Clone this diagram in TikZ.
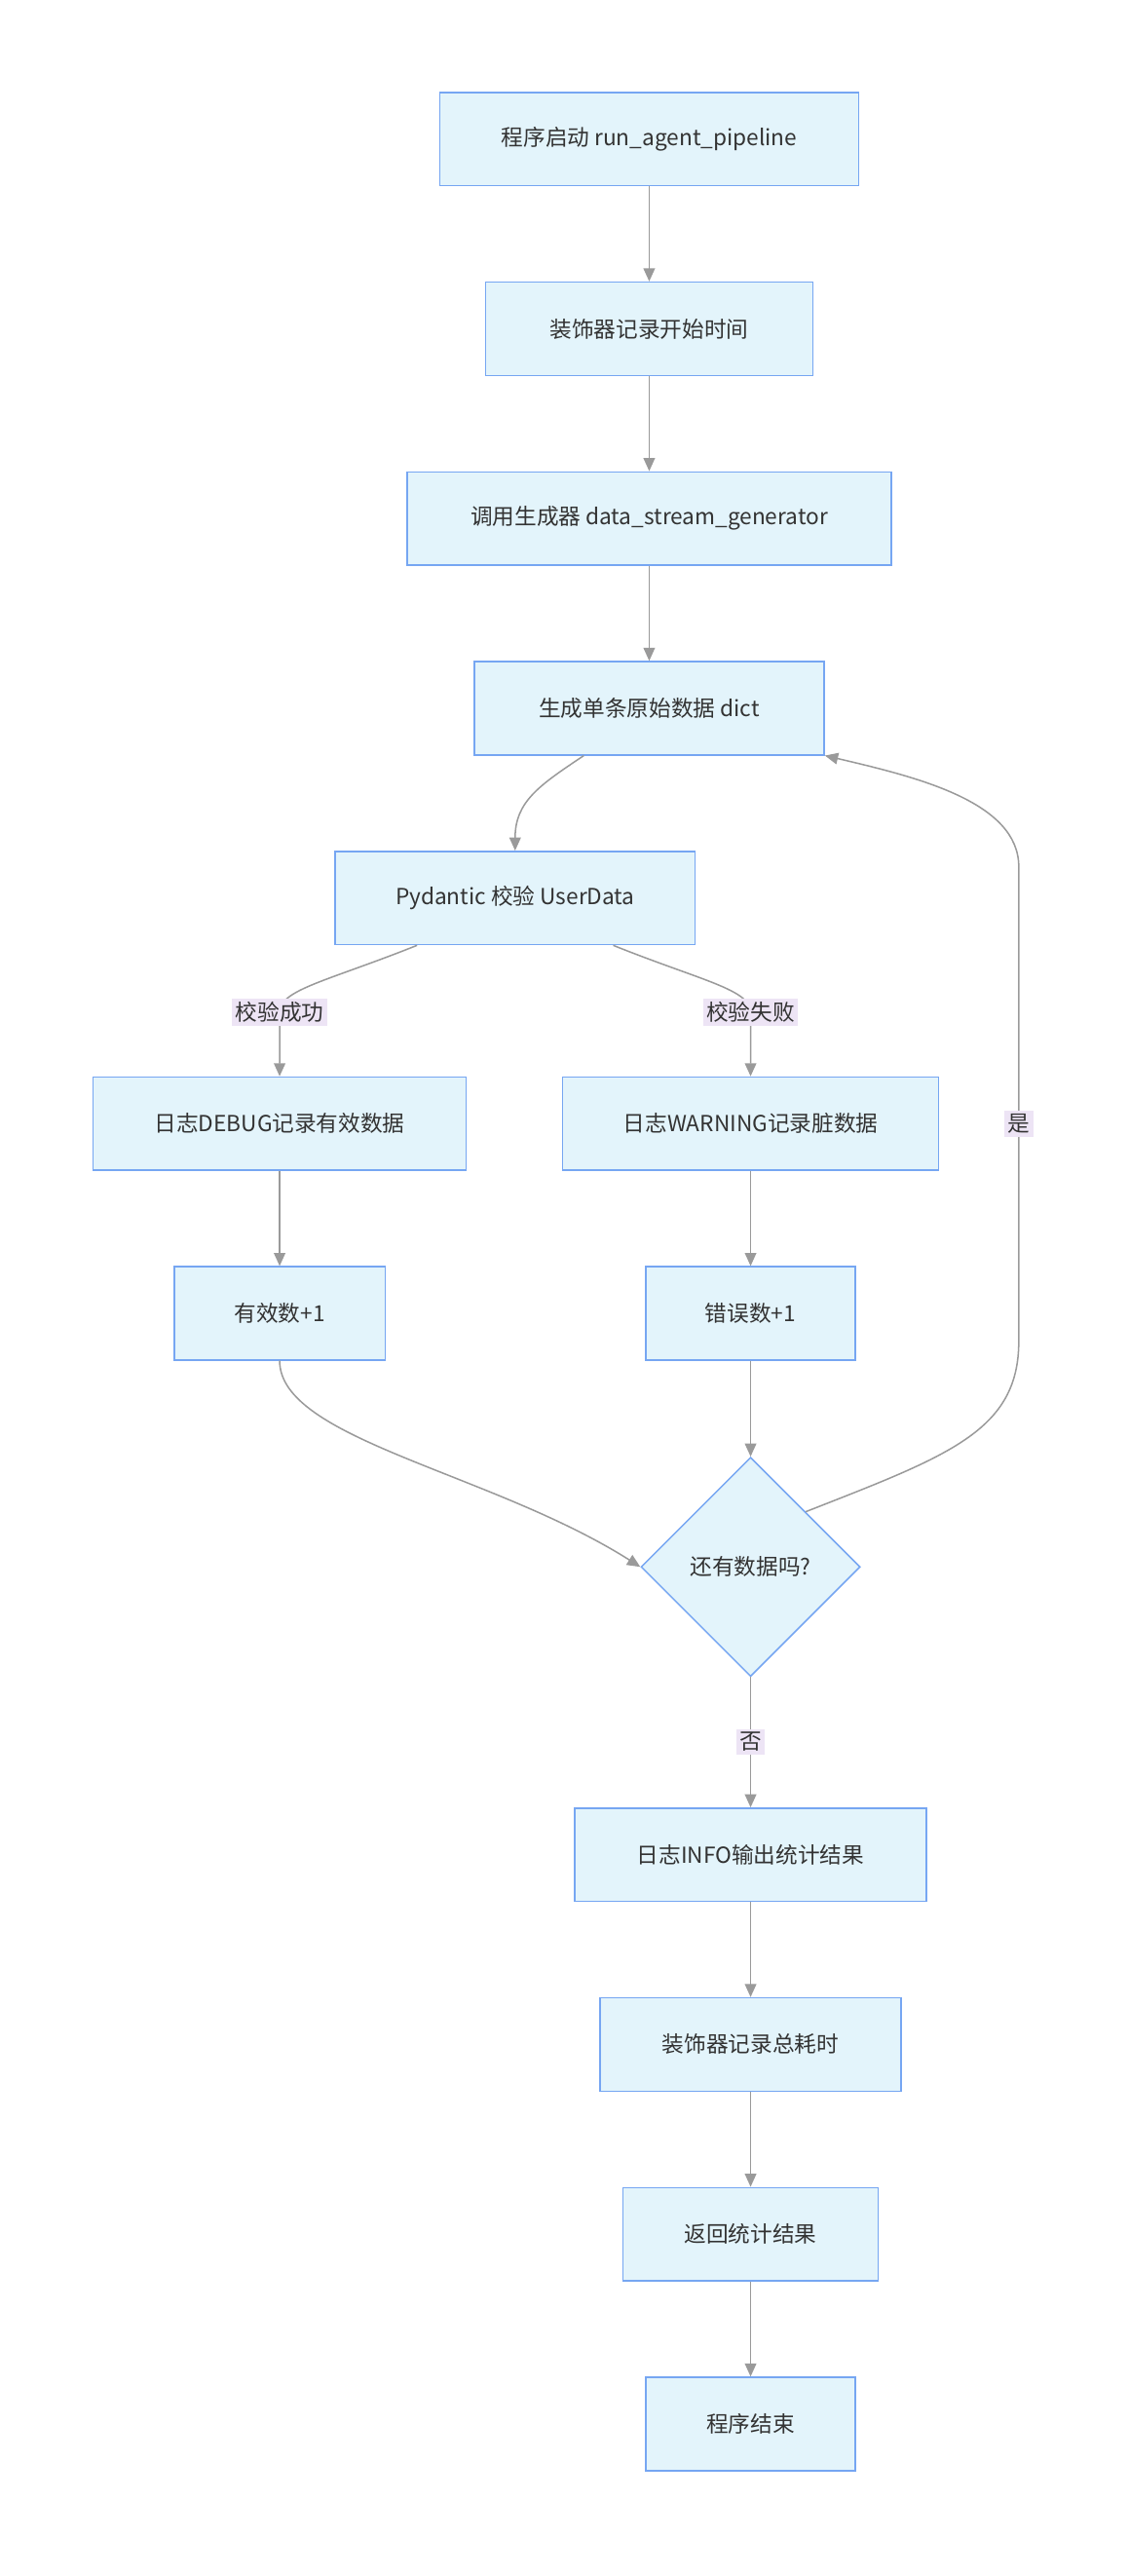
\documentclass[tikz,border=0pt]{standalone}
\usepackage{fontspec}
\setmainfont{Noto Sans CJK SC}
\usetikzlibrary{shapes.geometric,arrows.meta}
\definecolor{bfill}{HTML}{E3F4FB}
\definecolor{bline}{HTML}{76A6F2}
\definecolor{aline}{HTML}{9A9A9A}
\definecolor{lfill}{HTML}{EDE4F5}
\begin{document}
\begin{tikzpicture}[x=1pt,y=-1pt,
 box/.style={draw=bline,fill=bfill,line width=0.9pt,minimum height=57pt,font=\fontsize{13.5}{16}\selectfont,text=black!80,inner sep=0pt},
 dia/.style={draw=bline,fill=bfill,line width=0.9pt,diamond,minimum width=134pt,minimum height=134pt,inner sep=0pt,font=\fontsize{13.5}{16}\selectfont,text=black!80},
 arr/.style={draw=aline,line width=0.9pt,-{Triangle[length=8pt,width=7pt]}},
 lab/.style={fill=lfill,inner sep=2pt,font=\fontsize{13.5}{16}\selectfont,text=black!80}]
\useasboundingbox[fill=white] (0,0) rectangle (690,1575);
\node[box,minimum width=256pt] (n1) at (397,85) {程序启动 run\_agent\_pipeline};
\node[box,minimum width=200pt] (n2) at (397,201) {装饰器记录开始时间};
\node[box,minimum width=296pt] (n3) at (397,317) {调用生成器 data\_stream\_generator};
\node[box,minimum width=214pt] (n4) at (397,433) {生成单条原始数据 dict};
\node[box,minimum width=220pt] (n5) at (315,549) {Pydantic 校验 UserData};
\node[box,minimum width=228pt] (n6) at (171,687) {日志DEBUG记录有效数据};
\node[box,minimum width=230pt] (n7) at (459,687) {日志WARNING记录脏数据};
\node[box,minimum width=129pt] (n8) at (171,803) {有效数+1};
\node[box,minimum width=128pt] (n9) at (459,803) {错误数+1};
\node[dia] (d) at (459,958) {还有数据吗?};
\node[box,minimum width=215pt] (n11) at (459,1134) {日志INFO输出统计结果};
\node[box,minimum width=184pt] (n12) at (459,1250) {装饰器记录总耗时};
\node[box,minimum width=156pt] (n13) at (459,1366) {返回统计结果};
\node[box,minimum width=128pt] (n14) at (459,1482) {程序结束};
\draw[arr] (n1) -- (n2);
\draw[arr] (n2) -- (n3);
\draw[arr] (n3) -- (n4);
\draw[arr] (357,462) .. controls (330,480) and (315,490) .. (n5.north);
\coordinate (l1) at (171,619);
\coordinate (l2) at (459,619);
\draw[arr] (255,578) .. controls (200,600) and (171,605) .. (l1) -- (n6.north);
\draw[arr] (375,578) .. controls (430,600) and (459,605) .. (l2) -- (n7.north);
\node[lab] at (l1) {校验成功};
\node[lab] at (l2) {校验失败};
\draw[arr] (n6) -- (n8);
\draw[arr] (n7) -- (n9);
\draw[arr] (n8.south) .. controls (171,880) and (300,900) .. (d.west);
\draw[arr] (n9) -- (d.north);
\coordinate (l3) at (623,687);
\draw[arr] (d.north east) .. controls (580,890) and (623,875) .. (623,820) -- (l3) -- (623,530) .. controls (623,490) and (560,475) .. (n4.south east);
\node[lab] at (l3) {是};
\coordinate (l4) at (459,1065);
\draw[arr] (d.south) -- (l4) -- (n11.north);
\node[lab] at (l4) {否};
\draw[arr] (n11) -- (n12);
\draw[arr] (n12) -- (n13);
\draw[arr] (n13) -- (n14);
\end{tikzpicture}
\end{document}
